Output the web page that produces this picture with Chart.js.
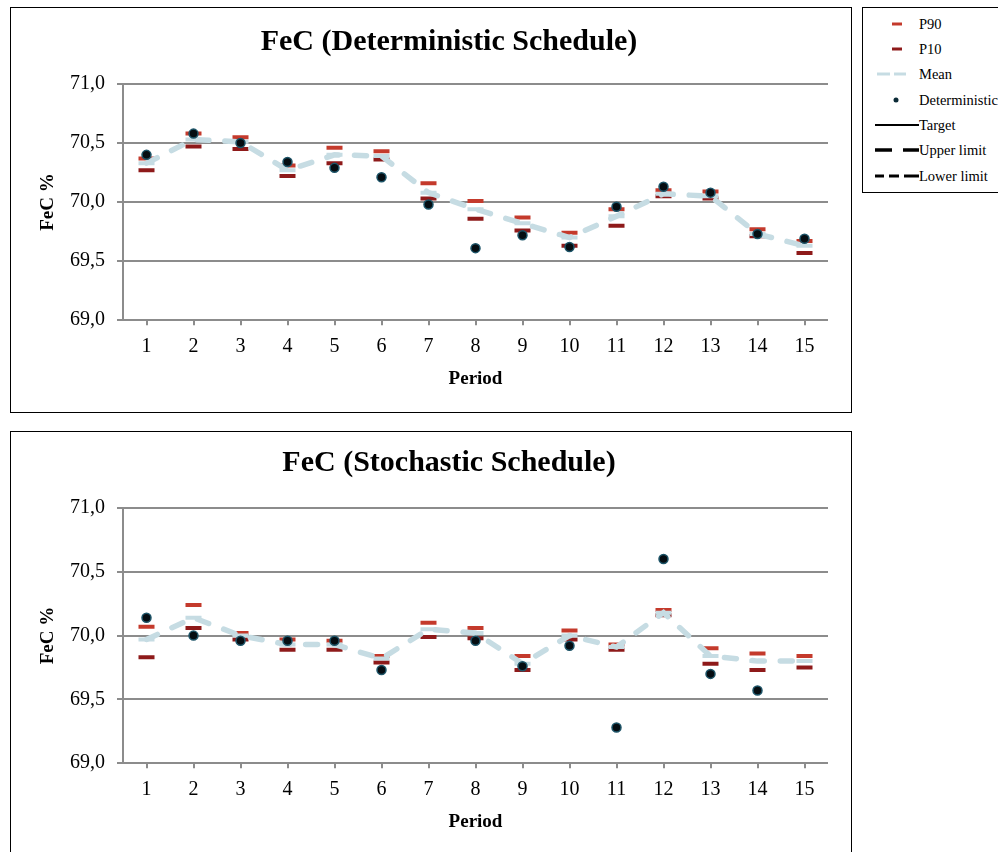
<!DOCTYPE html>
<html>
<head>
<meta charset="utf-8">
<script src="https://cdn.jsdelivr.net/npm/chart.js@4.4.0/dist/chart.umd.min.js"></script>
<style>
  html, body { margin: 0; padding: 0; background: #fff; overflow: hidden; }
  body { width: 998px; height: 852px; position: relative; font-family: "Liberation Serif", "Times New Roman", serif; }
  .box { position: absolute; border: 1px solid #000; background: #fff; overflow: hidden; }
  #boxTop { left: 10px; top: 7px; width: 840px; height: 404px; }
  #boxBot { left: 10px; top: 431px; width: 840px; height: 440px; }
  .box canvas { display: block; }
  #legend { position: absolute; left: 862px; top: 7px; width: 170px; height: 184px; border: 1px solid #000; }
  .item { position: absolute; left: 0; height: 20px; font-size: 14.5px; line-height: 20px; white-space: nowrap; }
  .item svg { position: absolute; left: 0; top: 0; }
  .item span { position: absolute; left: 56px; top: 0; }
</style>
</head>
<body>
<div class="box" id="boxTop"><canvas id="chartTop" width="876" height="404"></canvas></div>
<div class="box" id="boxBot"><canvas id="chartBot" width="876" height="423"></canvas></div>

<div id="legend">
  <div class="item" style="top:6px"><svg width="56" height="20"><line x1="29" y1="10" x2="39" y2="10" stroke="#c43a2c" stroke-width="3"/></svg><span>P90</span></div>
  <div class="item" style="top:31px"><svg width="56" height="20"><line x1="29" y1="10" x2="39" y2="10" stroke="#8e1a1a" stroke-width="3"/></svg><span>P10</span></div>
  <div class="item" style="top:56px"><svg width="56" height="20"><line x1="14" y1="10" x2="27" y2="10" stroke="#c6dce3" stroke-width="3"/><line x1="31" y1="10" x2="43" y2="10" stroke="#c6dce3" stroke-width="3"/></svg><span>Mean</span></div>
  <div class="item" style="top:82px"><svg width="56" height="20"><circle cx="33" cy="10" r="2.5" fill="#0b2a36"/></svg><span>Deterministic</span></div>
  <div class="item" style="top:107px"><svg width="56" height="20"><line x1="12" y1="10" x2="56" y2="10" stroke="#000" stroke-width="2"/></svg><span>Target</span></div>
  <div class="item" style="top:132px"><svg width="56" height="20"><line x1="12" y1="10" x2="29" y2="10" stroke="#000" stroke-width="3.5"/><line x1="40" y1="10" x2="56" y2="10" stroke="#000" stroke-width="3.5"/></svg><span>Upper limit</span></div>
  <div class="item" style="top:158px"><svg width="56" height="20"><line x1="12" y1="10" x2="21" y2="10" stroke="#000" stroke-width="3"/><line x1="26" y1="10" x2="36" y2="10" stroke="#000" stroke-width="3"/><line x1="41" y1="10" x2="56" y2="10" stroke="#000" stroke-width="3"/></svg><span>Lower limit</span></div>
</div>

<script>
const periods = ['1','2','3','4','5','6','7','8','9','10','11','12','13','14','15'];

// Deterministic schedule
const detP90  = [70.37, 70.58, 70.55, 70.31, 70.46, 70.43, 70.16, 70.01, 69.87, 69.74, 69.94, 70.10, 70.09, 69.77, 69.67];
const detP10  = [70.27, 70.47, 70.45, 70.22, 70.33, 70.36, 70.03, 69.86, 69.76, 69.63, 69.80, 70.05, 70.03, 69.71, 69.57];
const detMean = [70.33, 70.53, 70.51, 70.27, 70.40, 70.39, 70.08, 69.94, 69.82, 69.70, 69.88, 70.07, 70.05, 69.73, 69.63];
const detDet  = [70.40, 70.58, 70.50, 70.34, 70.29, 70.21, 69.98, 69.61, 69.72, 69.62, 69.96, 70.13, 70.08, 69.73, 69.69];

// Stochastic schedule
const stoP90  = [70.07, 70.24, 70.02, 69.97, 69.96, 69.84, 70.10, 70.06, 69.84, 70.04, 69.93, 70.20, 69.90, 69.86, 69.84];
const stoP10  = [69.83, 70.06, 69.97, 69.89, 69.89, 69.79, 69.99, 69.98, 69.73, 69.97, 69.89, 70.16, 69.78, 69.73, 69.75];
const stoMean = [69.97, 70.14, 70.00, 69.93, 69.93, 69.82, 70.05, 70.02, 69.78, 70.00, 69.91, 70.18, 69.84, 69.80, 69.80];
const stoDet  = [70.14, 70.00, 69.96, 69.96, 69.96, 69.73, null, 69.96, 69.76, 69.92, 69.28, 70.60, 69.70, 69.57, null];

const yTicks = [69, 69.5, 70, 70.5, 71];

const FONT = '"Liberation Serif", "Times New Roman", serif';
const GRID = '#8c8c8c';
// canvas is wider than its box so the title centres where the original does
const PAD_SIDE = 59;

function buildChart(id, title, p90, p10, mean, det, titleTop, titleBottom) {
  return new Chart(document.getElementById(id), {
    type: 'line',
    data: {
      labels: periods,
      datasets: [
        {
          label: 'Deterministic', data: det, showLine: false, order: 0,
          pointStyle: 'circle', pointRadius: 4.5, pointBorderWidth: 1.5,
          pointBackgroundColor: '#050d12', pointBorderColor: '#1d5468'
        },
        {
          label: 'Mean', data: mean, order: 1,
          borderColor: '#c6dce3', borderWidth: 5.5, borderDash: [12, 16],
          borderCapStyle: 'round', tension: 0,
          pointStyle: 'line', pointRadius: 8, pointBorderWidth: 4,
          pointBorderColor: '#c6dce3'
        },
        {
          label: 'P10', data: p10, showLine: false, order: 2,
          pointStyle: 'line', pointRadius: 8, pointBorderWidth: 4,
          pointBorderColor: '#8e1a1a'
        },
        {
          label: 'P90', data: p90, showLine: false, order: 3,
          pointStyle: 'line', pointRadius: 8, pointBorderWidth: 4,
          pointBorderColor: '#c43a2c'
        }
      ]
    },
    options: {
      responsive: false,
      animation: false,
      events: [],
      layout: { padding: { left: PAD_SIDE, right: PAD_SIDE, top: 0, bottom: 0 } },
      plugins: {
        legend: { display: false },
        tooltip: { enabled: false },
        title: {
          display: true, text: title, color: '#000',
          font: { family: FONT, size: 30, weight: 'bold' },
          padding: { top: titleTop, bottom: titleBottom }
        }
      },
      scales: {
        x: {
          offset: true,
          grid: { display: true, drawOnChartArea: false, drawTicks: true, tickLength: 5, color: GRID, lineWidth: 2 },
          border: { display: false },
          ticks: { color: '#000', font: { family: FONT, size: 20 }, padding: 10 },
          title: { display: true, text: 'Period', color: '#000', font: { family: FONT, size: 19, weight: 'bold' }, padding: { top: -2, bottom: 22 } }
        },
        y: {
          min: 69, max: 71,
          afterBuildTicks: (scale) => { scale.ticks = yTicks.map(v => ({ value: v })); },
          grid: { color: GRID, lineWidth: 2, tickLength: 6 },
          border: { display: true, color: GRID, width: 2 },
          ticks: {
            color: '#000', font: { family: FONT, size: 20 }, padding: 12,
            callback: (v) => Number(v).toFixed(1).replace('.', ',')
          },
          title: { display: true, text: 'FeC %', color: '#000', font: { family: FONT, size: 19, weight: 'bold' }, padding: { top: 26 - PAD_SIDE, bottom: 0 } },
          afterFit: (scale) => { scale.width = 112 - PAD_SIDE; }
        }
      }
    }
  });
}

buildChart('chartTop', 'FeC (Deterministic Schedule)', detP90, detP10, detMean, detDet, 16, 24);
buildChart('chartBot', 'FeC (Stochastic Schedule)', stoP90, stoP10, stoMean, stoDet, 13, 27);
</script>
</body>
</html>
